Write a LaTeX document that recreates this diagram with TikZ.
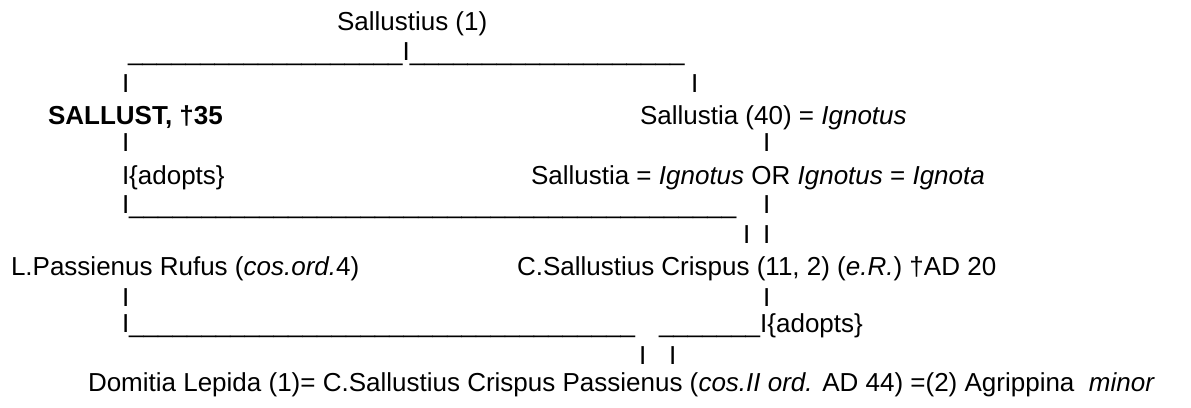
\documentclass[tikz,border=0pt]{standalone}
\usepackage{fontspec}
\setmainfont{Liberation Sans}
% a run of n underscore glyphs
\newcommand\ubars[1]{\foreach \k in {1,...,#1}{\_}}
\begin{document}
\begin{tikzpicture}[x=1pt,y=-1pt,
  tx/.style={anchor=base west, inner sep=0pt, outer sep=0pt,
    font=\fontsize{26}{30}\selectfont}]
\useasboundingbox (0,0) rectangle (1191,407);
% generation 1
\node[tx] (sal1) at (337,30) {Sallustius (1)};
\node[tx] (bar2) at (128,60) {\ubars{19}I\ubars{19}};
\node[tx] (v3a) at (122,92) {I};
\node[tx] (v3b) at (691,92) {I};
% generation 2
\node[tx] (sallust) at (48,124) {\bfseries SALLUST, †35};
\node[tx] (sallustia) at (640,124) {Sallustia (40) = \textit{Ignotus}};
\node[tx] (v5a) at (122,151) {I};
\node[tx] (v5b) at (763,151) {I};
\node[tx] (adopt1) at (122,184) {I\{adopts\}};
\node[tx] (alt) at (531,184) {Sallustia = \textit{Ignotus} OR \textit{Ignotus} = \textit{Ignota}};
\node[tx] (bar7) at (122,213) {I\ubars{42}};
\node[tx] (v7b) at (763,213) {I};
\node[tx] (v8a) at (743,243) {I};
\node[tx] (v8b) at (763,243) {I};
% generation 3
\node[tx] (rufus) at (11,275) {L.Passienus Rufus (\textit{cos.ord.}4)};
\node[tx] (crispus) at (517,275) {C.Sallustius Crispus (11, 2) (\textit{e.R.}) †AD 20};
\node[tx] (v10a) at (122,306) {I};
\node[tx] (v10b) at (763,306) {I};
\node[tx] (bar11a) at (122,332) {I\ubars{35}};
\node[tx] (bar11b) at (659,332) {\ubars{7}I\{adopts\}};
\node[tx] (v12a) at (639,364) {I};
\node[tx] (v12b) at (669,364) {I};
% generation 4
\node[tx] (passienus) at (88,391) {Domitia Lepida (1)= C.Sallustius Crispus Passienus (\textit{cos.II ord.} AD 44) =(2) Agrippina~ \textit{minor}};
\end{tikzpicture}
\end{document}
